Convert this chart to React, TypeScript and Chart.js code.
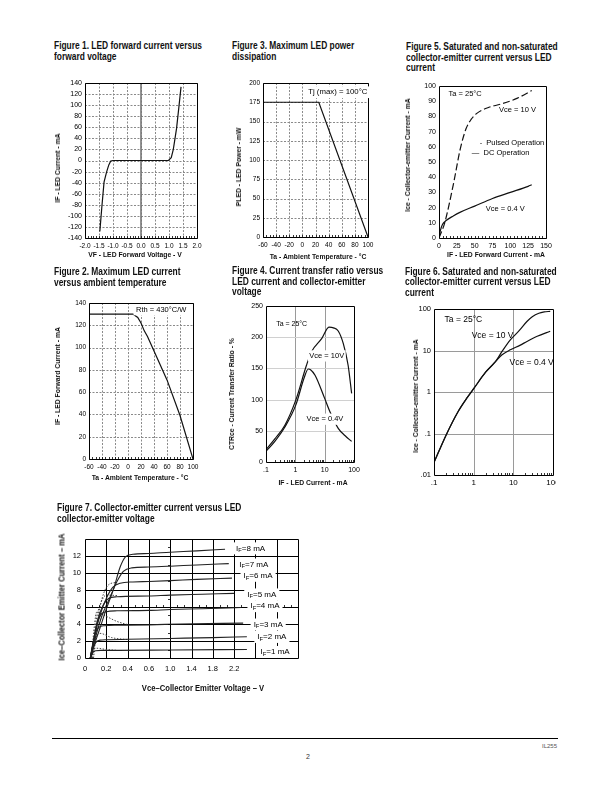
import React, { useEffect, useRef } from 'react';
import { Chart, registerables } from 'chart.js';

const FONT = '"Liberation Sans", Arial, Helvetica, sans-serif';

// ---------- Figure 1: LED forward current vs forward voltage ----------
const F1_VF = [-1.47, -1.4, -1.32, -1.23, -1.15, -1.08, -1.0, 0.98, 1.08, 1.15, 1.2, 1.27, 1.35, 1.43];
const F1_IF = [-128, -85, -39, -21, -8, -1, 0, 0, 5, 19, 35, 58, 95, 133];
const F1_XTICKS = [-2, -1.5, -1, -0.5, 0, 0.5, 1, 1.5, 2];
const F1_YTICKS = [-140, -120, -100, -80, -60, -40, -20, 0, 20, 40, 60, 80, 100, 120, 140];

// ---------- Figure 3: Maximum LED power dissipation ----------
const F3_TA = [-60, 25, 100];
const F3_P = [175, 175, 0];
const F3_XTICKS = [-60, -40, -20, 0, 20, 40, 60, 80, 100];
const F3_YTICKS = [0, 25, 50, 75, 100, 125, 150, 175, 200];

// ---------- Figure 5: Ice vs IF (linear) ----------
const F5_IF_10V = [0, 8, 20, 30, 38, 45, 53, 70, 86, 110, 130];
const F5_ICE_10V = [0, 10, 35, 59, 72, 78, 82, 86, 88, 92, 97];
const F5_IF_04V = [0, 2, 5, 10, 20, 30, 50, 75, 100, 125, 130];
const F5_ICE_04V = [0, 5, 9, 11.5, 14.5, 17, 21, 26, 30, 34, 35];
const F5_XTICKS = [0, 25, 50, 75, 100, 125, 150];
const F5_YTICKS = [0, 10, 20, 30, 40, 50, 60, 70, 80, 90, 100];

// ---------- Figure 2: Maximum LED current vs ambient temperature ----------
const F2_TA = [-60, 8, 15, 20, 25, 30, 40, 60, 80, 100];
const F2_IF = [130, 130, 127, 122, 115, 110, 97, 71, 39, 0];
const F2_XTICKS = [-60, -40, -20, 0, 20, 40, 60, 80, 100];
const F2_YTICKS = [0, 20, 40, 60, 80, 100, 120, 140];

// ---------- Figure 4: CTR vs LED current ----------
const F4_IF_10V = [0.1, 0.2, 0.44, 1.05, 2.4, 3.6, 8, 14, 20, 29, 43, 63, 83];
const F4_CTR_10V = [20, 37, 59, 100, 155, 177, 198, 216, 215, 210, 190, 155, 110];
const F4_IF_04V = [0.1, 0.2, 0.44, 1.05, 2, 2.76, 3.3, 4.7, 10, 15, 29, 50, 83];
const F4_CTR_04V = [17, 33, 56, 92, 135, 149, 148, 139, 102, 81, 54, 42, 33];
const F4_XTICKS = [0.1, 1, 10, 100];
const F4_XLABELS = ['.1', '1', '10', '100'];
const F4_YTICKS = [0, 50, 100, 150, 200, 250];

// ---------- Figure 6: Ice vs IF (log-log) ----------
const F6_IF_10V = [0.1, 0.2, 0.4, 0.7, 1, 2, 3.5, 5.2, 8.4, 14, 22, 30, 44, 60, 85];
const F6_ICE_10V = [0.02, 0.09, 0.33, 0.75, 1.2, 3, 5.3, 9.5, 18, 30, 50, 65, 79, 85, 88];
const F6_IF_04V = [0.1, 0.2, 0.4, 0.7, 1, 2, 3.5, 5.2, 8.4, 15, 22, 40, 85];
const F6_ICE_04V = [0.02, 0.09, 0.33, 0.75, 1.2, 3, 5.3, 7.9, 10.4, 13.5, 16.5, 22, 29];
const F6_XTICKS = [0.1, 1, 10, 100];
const F6_XLABELS = ['.1', '1', '10', '100'];
const F6_YTICKS = [0.01, 0.1, 1, 10, 100];
const F6_YLABELS = ['.01', '.1', '1', '10', '100'];

// ---------- Figure 7: Ice vs Vce for several IF ----------
const F7_V8 = [0.05, 0.1, 0.14, 0.19, 0.27, 0.33, 0.38, 0.45, 0.6, 1.0, 1.5, 2.03];
const F7_I8 = [0, 2, 3.5, 5.4, 8.2, 10.7, 11.9, 12.2, 12.3, 12.45, 12.6, 12.8];
const F7_V7 = [0.05, 0.1, 0.16, 0.23, 0.3, 0.36, 0.44, 0.6, 1.0, 1.5, 2.1];
const F7_I7 = [0, 2.5, 5, 7, 9, 10.2, 10.6, 10.7, 10.8, 10.95, 11.1];
const F7_V6 = [0.05, 0.09, 0.14, 0.2, 0.26, 0.33, 0.45, 0.6, 1.0, 1.5, 2.16];
const F7_I6 = [0, 2.5, 5, 7, 8.3, 8.8, 8.95, 9.0, 9.1, 9.25, 9.4];
const F7_V5 = [0.05, 0.08, 0.12, 0.17, 0.22, 0.3, 0.6, 1.0, 1.6, 2.2];
const F7_I5 = [0, 2, 4.5, 6.2, 7.0, 7.2, 7.3, 7.4, 7.5, 7.6];
const F7_V4 = [0.05, 0.08, 0.11, 0.15, 0.2, 0.3, 0.6, 1.0, 1.6, 2.34];
const F7_I4 = [0, 2, 4, 5.1, 5.45, 5.55, 5.6, 5.7, 5.8, 5.95];
const F7_V3 = [0.05, 0.07, 0.1, 0.13, 0.18, 0.3, 0.6, 1.2, 2.37];
const F7_I3 = [0, 1.5, 3, 3.6, 3.8, 3.85, 3.9, 4.0, 4.1];
const F7_V2 = [0.05, 0.07, 0.1, 0.14, 0.2, 0.4, 1.0, 1.8, 2.44];
const F7_I2 = [0, 1, 1.8, 2.1, 2.15, 2.2, 2.3, 2.4, 2.5];
const F7_V1 = [0.05, 0.07, 0.1, 0.15, 0.3, 1.0, 2.44];
const F7_I1 = [0, 0.6, 0.85, 0.9, 0.9, 0.95, 1.0];
// dotted (pulsed) traces
const F7_DA_V = [0.06, 0.09, 0.11, 0.2, 0.3, 0.41];
const F7_DA_I = [0, 4, 5.4, 4.9, 4.3, 3.9];
const F7_DB_V = [0.06, 0.09, 0.14, 0.25, 0.41];
const F7_DB_I = [0, 2, 2.9, 2.4, 2.15];
const F7_DC_V = [0.06, 0.08, 0.11, 0.2, 0.3];
const F7_DC_I = [0, 0.9, 1.15, 1.0, 0.9];
const F7_DD_V = [0.07, 0.1, 0.15, 0.2, 0.3];
const F7_DD_I = [0, 4, 6.5, 7.4, 7.35];
const F7_DE_V = [0.08, 0.12, 0.16, 0.22, 0.3];
const F7_DE_I = [0, 4.5, 7, 8.6, 8.9];
const F7_XLABELS = ['0', '0.2', '0.4', '0.6', '1.0', '1.4', '1.8', '2.2'];
const F7_YTICKS = [0, 2, 4, 6, 8, 10, 12, 14];
const F7_LABELS = ['I_F=8 mA', 'I_F=7 mA', 'I_F=6 mA', 'I_F=5 mA', 'I_F=4 mA', 'I_F=3 mA', 'I_F=2 mA', 'I_F=1 mA'];
const F7_LABEL_V = [2.51, 2.57, 2.65, 2.72, 2.78, 2.84, 2.91, 2.97];
const F7_LABEL_I = [12.9, 11.0, 9.67, 7.48, 6.1, 3.94, 2.48, 0.71];

// axis with 0.2 V divisions up to 0.6 V and 0.4 V divisions beyond
const toDiv = (v: number) => (v <= 0.6 ? v / 0.2 : 3 + (v - 0.6) / 0.4);

const range = (a: number, b: number, s: number) => {
  const out: number[] = [];
  for (let v = a; v <= b + 1e-9; v += s) out.push(Math.round(v * 1000) / 1000);
  return out;
};
const logMinor = (decades: number[]) => {
  const out: number[] = [];
  decades.forEach((d) => { for (let k = 2; k <= 9; k++) out.push(d * k); });
  return out;
};

// ---------- plugins ----------
const framePlugin = {
  id: 'frame',
  beforeDatasetsDraw(chart: any, _a: any, o: any) {
    if (!o || !o.on) return;
    const { ctx, chartArea: a } = chart;
    const x = chart.scales.x, y = chart.scales.y;
    const px = (v: number) => Math.round(x.getPixelForValue(v)) + 0.5;
    const py = (v: number) => Math.round(y.getPixelForValue(v)) + 0.5;
    ctx.save();
    ctx.lineWidth = o.gridWidth ?? 1;
    ctx.setLineDash(o.gridDash ?? []);
    ctx.strokeStyle = o.gridColor ?? '#999';
    ctx.beginPath();
    (o.gx || []).forEach((v: number) => { const p = px(v); ctx.moveTo(p, a.top); ctx.lineTo(p, a.bottom); });
    ctx.stroke();
    ctx.strokeStyle = o.gyColor ?? o.gridColor ?? '#999';
    ctx.beginPath();
    (o.gy || []).forEach((v: number) => { const p = py(v); ctx.moveTo(a.left, p); ctx.lineTo(a.right, p); });
    ctx.stroke();
    (o.special || []).forEach((s: any) => {
      ctx.setLineDash(s.dash || []);
      ctx.strokeStyle = s.color;
      ctx.lineWidth = s.width;
      ctx.beginPath();
      if (s.x !== undefined) { const p = x.getPixelForValue(s.x); ctx.moveTo(p, a.top); ctx.lineTo(p, a.bottom); }
      else { const p = y.getPixelForValue(s.y); ctx.moveTo(a.left, p); ctx.lineTo(a.right, p); }
      ctx.stroke();
    });
    ctx.restore();
  },
  afterDatasetsDraw(chart: any, _a: any, o: any) {
    if (!o || !o.on) return;
    const { ctx, chartArea: a } = chart;
    const x = chart.scales.x, y = chart.scales.y;
    const px = (v: number) => Math.round(x.getPixelForValue(v)) + 0.5;
    const py = (v: number) => Math.round(y.getPixelForValue(v)) + 0.5;
    ctx.save();
    ctx.setLineDash([]);
    ctx.strokeStyle = o.boxColor ?? '#000';
    ctx.lineWidth = o.boxWidth ?? 1;
    const l = Math.round(a.left) + 0.5, t = Math.round(a.top) + 0.5;
    const r = Math.round(a.right) + 0.5, b = Math.round(a.bottom) + 0.5;
    ctx.beginPath();
    ctx.moveTo(l, t); ctx.lineTo(l, b); ctx.lineTo(r, b);
    if (o.fullBox !== false) { ctx.lineTo(r, t); ctx.lineTo(l, t); }
    ctx.stroke();
    ctx.lineWidth = 0.8;
    const len = o.minorLen ?? 2.5;
    ctx.beginPath();
    (o.minorX || []).forEach((v: number) => { const p = px(v); ctx.moveTo(p, b); ctx.lineTo(p, b - len); });
    (o.minorY || []).forEach((v: number) => { const p = py(v); ctx.moveTo(l, p); ctx.lineTo(l + len, p); });
    (o.hticks || []).forEach((h: any) => {
      const yy = py(h.y);
      h.xs.forEach((v: number) => { const p = px(v); ctx.moveTo(p, yy); ctx.lineTo(p, yy - len); });
    });
    (o.vticks || []).forEach((h: any) => {
      const xx = px(h.x);
      h.ys.forEach((v: number) => { const p = py(v); ctx.moveTo(xx, p); ctx.lineTo(xx - len, p); });
    });
    ctx.stroke();
    ctx.restore();
  },
};

const segs = (t: string) => {
  const parts = t.split('_');
  const out = [{ s: parts[0], sub: false }];
  for (let i = 1; i < parts.length; i++) {
    out.push({ s: parts[i][0], sub: true });
    if (parts[i].length > 1) out.push({ s: parts[i].slice(1), sub: false });
  }
  return out.filter((p) => p.s.length);
};

const notesPlugin = {
  id: 'notes',
  afterDatasetsDraw(chart: any, _a: any, o: any) {
    if (!o || !o.items) return;
    const { ctx } = chart;
    const x = chart.scales.x, y = chart.scales.y;
    o.items.forEach((it: any) => {
      const size = it.size || 7.5;
      const cx = x.getPixelForValue(it.x), cy = y.getPixelForValue(it.y);
      ctx.save();
      const pieces = segs(it.t).map((p) => {
        const fs = p.sub ? size * 0.72 : size;
        ctx.font = `${fs}px ${FONT}`;
        return { ...p, fs, w: ctx.measureText(p.s).width };
      });
      const total = pieces.reduce((s, p) => s + p.w, 0);
      let sx = it.align === 'left' ? cx : it.align === 'right' ? cx - total : cx - total / 2;
      if (it.bg) {
        ctx.fillStyle = '#fff';
        const pad = it.pad ?? 2.5;
        ctx.fillRect(sx - pad, cy - size * 0.75, total + pad * 2, size * 1.5);
      }
      ctx.fillStyle = '#000';
      ctx.textBaseline = 'middle';
      ctx.textAlign = 'left';
      pieces.forEach((p) => {
        ctx.font = `${p.fs}px ${FONT}`;
        ctx.fillText(p.s, sx, cy + (p.sub ? size * 0.28 : 0));
        sx += p.w;
      });
      ctx.restore();
    });
  },
};

Chart.register(...registerables, framePlugin, notesPlugin);

// ---------- helpers ----------
const ds = (xs: number[], ys: number[], extra: any = {}) => ({
  data: xs.map((x, i) => ({ x, y: ys[i] })),
  showLine: true,
  pointRadius: 0,
  borderColor: '#111',
  borderWidth: 1.2,
  fill: false,
  ...extra,
});

const axis = (type: string, min: number, max: number, ticks: number[], fmt: (v: number) => string, size: number, pad: number) => ({
  type,
  min,
  max,
  grid: { display: false, drawTicks: false },
  border: { display: false },
  afterBuildTicks: (s: any) => { s.ticks = ticks.map((v) => ({ value: v })); },
  ticks: {
    autoSkip: false,
    maxRotation: 0,
    minRotation: 0,
    padding: pad,
    color: '#000',
    font: { family: FONT, size },
    callback: (v: any) => fmt(Number(v)),
  },
});

function Plot({ L, T, R, B, pl = 32, pt = 7, pr = 12, pb = 20, make }: any) {
  const ref = useRef<HTMLCanvasElement | null>(null);
  const w = R - L + pl + pr;
  const h = B - T + pt + pb;
  useEffect(() => {
    const cfg: any = make();
    const o = cfg.options;
    o.responsive = false;
    o.maintainAspectRatio = false;
    o.animation = false;
    o.events = [];
    o.layout = { padding: { left: 0, top: pt, right: pr, bottom: 0 } };
    o.plugins = { legend: { display: false }, tooltip: { enabled: false }, ...(o.plugins || {}) };
    o.scales.x.afterFit = (s: any) => { s.height = pb; s.paddingLeft = 0; s.paddingRight = 0; };
    o.scales.y.afterFit = (s: any) => { s.width = pl; s.paddingTop = 0; s.paddingBottom = 0; };
    const chart = new Chart(ref.current as HTMLCanvasElement, cfg);
    return () => chart.destroy();
  }, []);
  return (
    <canvas
      ref={ref}
      width={w}
      height={h}
      style={{ position: 'absolute', left: L - pl, top: T - pt, width: w, height: h }}
    />
  );
}

const Title = ({ x, y, lines, lh = 10.8 }: any) => (
  <div
    style={{
      position: 'absolute', left: x, top: y, font: `bold 10px ${FONT}`, lineHeight: `${lh}px`,
      transform: 'scaleX(0.84)', transformOrigin: '0 0', whiteSpace: 'nowrap', color: '#111',
    }}
  >
    {lines.map((l: string, i: number) => <div key={i}>{l}</div>)}
  </div>
);

const AxisT = ({ cx, cy, text, rot = false, size = 8 }: any) => (
  <div
    style={{
      position: 'absolute', left: cx, top: cy, font: `bold ${size}px ${FONT}`, lineHeight: 1,
      whiteSpace: 'nowrap', color: '#111',
      transform: `translate(-50%, -50%) ${rot ? 'rotate(-90deg) ' : ''}scaleX(0.85)`,
    }}
  >
    {text}
  </div>
);

const intFmt = (v: number) => String(v);

export default function App() {
  return (
    <div style={{ position: 'absolute', left: 0, top: 0, width: 612, height: 792, background: '#fff', overflow: 'hidden', fontFamily: FONT }}>
      {/* Figure 1 */}
      <Title x={54} y={41.3} lines={['Figure 1. LED forward current versus', 'forward voltage']} />
      <Plot L={85} T={83} R={197} B={238} make={() => ({
        type: 'scatter',
        data: { datasets: [ds(F1_VF, F1_IF)] },
        options: {
          scales: {
            x: axis('linear', -2, 2, F1_XTICKS, (v) => v.toFixed(1), 6.5, 4),
            y: axis('linear', -140, 140, F1_YTICKS, intFmt, 7, 3),
          },
          plugins: {
            frame: {
              on: true, gx: F1_XTICKS, gy: F1_YTICKS, gridColor: '#8a8a8a', gridDash: [2, 1.5],
              special: [{ x: 0, color: '#777', width: 1.6 }], minorX: range(-2, 2, 0.1),
            },
          },
        },
      })} />
      <AxisT cx={58.3} cy={168} rot text="IF - LED  Current - mA" />
      <AxisT cx={135} cy={255} text="VF - LED Forward Voltage - V" />

      {/* Figure 3 */}
      <Title x={231.7} y={41.3} lines={['Figure 3. Maximum LED power', 'dissipation']} />
      <Plot L={263} T={83} R={368} B={237} make={() => ({
        type: 'scatter',
        data: { datasets: [ds(F3_TA, F3_P)] },
        options: {
          scales: {
            x: axis('linear', -60, 100, F3_XTICKS, intFmt, 6.5, 4),
            y: axis('linear', 0, 200, F3_YTICKS, intFmt, 6.5, 3),
          },
          plugins: {
            frame: { on: true, gx: F3_XTICKS, gy: F3_YTICKS, gridColor: '#8a8a8a', gridDash: [2, 1.5], minorX: range(-60, 100, 5) },
            notes: { items: [{ x: 54, y: 188, t: 'Tj (max) = 100°C', bg: true, size: 7.8 }] },
          },
        },
      })} />
      <AxisT cx={239} cy={167} rot text="PLED - LED Power - mW" />
      <AxisT cx={318} cy={257} text="Ta - Ambient Temperature - °C" />

      {/* Figure 5 */}
      <Title x={406} y={42.3} lh={10.5} lines={['Figure 5. Saturated and non-saturated', 'collector-emitter current versus LED', 'current']} />
      <Plot L={439} T={86} R={546} B={238} make={() => ({
        type: 'scatter',
        data: {
          datasets: [
            ds(F5_IF_10V, F5_ICE_10V, { borderDash: [7, 3], cubicInterpolationMode: 'monotone' }),
            ds(F5_IF_04V, F5_ICE_04V, { cubicInterpolationMode: 'monotone' }),
          ],
        },
        options: {
          scales: {
            x: axis('linear', 0, 150, F5_XTICKS, intFmt, 7, 4),
            y: axis('linear', 0, 100, F5_YTICKS, intFmt, 7, 3),
          },
          plugins: {
            frame: { on: true, minorX: range(0, 150, 5) },
            notes: {
              items: [
                { x: 36.6, y: 95, t: 'Ta = 25°C' },
                { x: 110, y: 84, t: 'Vce = 10 V' },
                { x: 57, y: 62.8, t: '-  Pulsed Operation', align: 'left' },
                { x: 46, y: 56.2, t: '—  DC Operation', align: 'left' },
                { x: 92.8, y: 18.9, t: 'Vce = 0.4 V' },
              ],
            },
          },
        },
      })} />
      <AxisT cx={408.3} cy={155} rot text="Ice  -  Collector-emitter  Current - mA" />
      <AxisT cx={496} cy={255} text="IF -  LED Forward Current - mA" />

      {/* Figure 2 */}
      <Title x={54} y={266.9} lines={['Figure 2. Maximum LED current', 'versus ambient temperature']} />
      <Plot L={89} T={303} R={193} B={459} make={() => ({
        type: 'scatter',
        data: { datasets: [ds(F2_TA, F2_IF)] },
        options: {
          scales: {
            x: axis('linear', -60, 100, F2_XTICKS, intFmt, 6.5, 4),
            y: axis('linear', 0, 140, F2_YTICKS, intFmt, 6.5, 3),
          },
          plugins: {
            frame: { on: true, gx: F2_XTICKS, gy: F2_YTICKS, gridColor: '#8a8a8a', gridDash: [2, 1.5], minorX: range(-60, 100, 5) },
            notes: { items: [{ x: 51, y: 134, t: 'Rth = 430°C/W', bg: true, size: 7.5 }] },
          },
        },
      })} />
      <AxisT cx={58.3} cy={376} rot text="IF  -  LED Forward Current - mA" />
      <AxisT cx={140} cy={478.3} text="Ta - Ambient Temperature -  °C" />

      {/* Figure 4 */}
      <Title x={231.7} y={266.3} lh={10.5} lines={['Figure 4. Current transfer ratio versus', 'LED current and collector-emitter', 'voltage']} />
      <Plot L={266} T={306} R={354} B={462} make={() => ({
        type: 'scatter',
        data: {
          datasets: [
            ds(F4_IF_10V, F4_CTR_10V, { cubicInterpolationMode: 'monotone' }),
            ds(F4_IF_04V, F4_CTR_04V, { cubicInterpolationMode: 'monotone' }),
          ],
        },
        options: {
          scales: {
            x: axis('logarithmic', 0.1, 100, F4_XTICKS, (v) => F4_XLABELS[F4_XTICKS.indexOf(v)] ?? '', 7, 4),
            y: axis('linear', 0, 250, F4_YTICKS, intFmt, 7, 3),
          },
          plugins: {
            frame: {
              on: true, gx: [1, 10], gy: [50, 100, 150, 200], gridColor: '#9a9a9a', gyColor: '#d0d0d0',
              minorX: logMinor([0.1, 1, 10]),
            },
            notes: {
              items: [
                { x: 0.75, y: 221, t: 'Ta = 25°C', size: 7 },
                { x: 11.8, y: 170, t: 'Vce = 10V', bg: true, size: 7.5, pad: 1.5 },
                { x: 10.2, y: 68.6, t: 'Vce = 0.4V', bg: true, size: 7.5, pad: 1.5 },
              ],
            },
          },
        },
      })} />
      <AxisT cx={232.3} cy={394} rot text="CTRce - Current Transfer Ratio - %" />
      <AxisT cx={313} cy={482.7} text="IF - LED Current - mA" />

      {/* Figure 6 */}
      <Title x={405} y={266.9} lh={10.5} lines={['Figure 6. Saturated and non-saturated', 'collector-emitter current versus LED', 'current']} />
      <Plot L={434} T={309} R={553} B={475} pr={3} pl={30} make={() => ({
        type: 'scatter',
        data: {
          datasets: [
            ds(F6_IF_10V, F6_ICE_10V, { cubicInterpolationMode: 'monotone' }),
            ds(F6_IF_04V, F6_ICE_04V, { cubicInterpolationMode: 'monotone' }),
          ],
        },
        options: {
          scales: {
            x: axis('logarithmic', 0.1, 100, F6_XTICKS, (v) => F6_XLABELS[F6_XTICKS.indexOf(v)] ?? '', 8, 3),
            y: axis('logarithmic', 0.01, 100, F6_YTICKS, (v) => F6_YLABELS[F6_YTICKS.indexOf(v)] ?? '', 7.5, 3),
          },
          plugins: {
            frame: { on: true, gx: [1, 10], gy: [0.1, 1, 10], gridColor: '#9a9a9a', minorX: logMinor([0.1, 1, 10]) },
            notes: {
              items: [
                { x: 0.55, y: 55, t: 'Ta = 25°C', size: 8.5 },
                { x: 3.0, y: 23, t: 'Vce = 10 V', size: 8.5 },
                { x: 29, y: 5.0, t: 'Vce = 0.4 V', size: 8.5 },
              ],
            },
          },
        },
      })} />
      <AxisT cx={416} cy={396} rot text="Ice  -  Collector-emitter  Current - mA" />

      {/* Figure 7 */}
      <Title x={57.3} y={502.9} lines={['Figure 7. Collector-emitter current versus LED', 'collector-emitter voltage']} />
      <Plot L={85} T={539} R={298} B={658} pl={26} pb={18} pr={14} make={() => {
        const dv = (vs: number[]) => vs.map(toDiv);
        const solid = { cubicInterpolationMode: 'monotone', borderWidth: 1.1, borderColor: '#222' };
        const dot = { cubicInterpolationMode: 'monotone', borderWidth: 1, borderColor: '#444', borderDash: [1.5, 1.5] };
        return {
          type: 'scatter',
          data: {
            datasets: [
              ds(dv(F7_V8), F7_I8, solid),
              ds(dv(F7_V7), F7_I7, solid),
              ds(dv(F7_V6), F7_I6, solid),
              ds(dv(F7_V5), F7_I5, solid),
              ds(dv(F7_V4), F7_I4, solid),
              ds(dv(F7_V3), F7_I3, solid),
              ds(dv(F7_V2), F7_I2, solid),
              ds(dv(F7_V1), F7_I1, solid),
              ds(dv(F7_DA_V), F7_DA_I, dot),
              ds(dv(F7_DB_V), F7_DB_I, dot),
              ds(dv(F7_DC_V), F7_DC_I, dot),
              ds(dv(F7_DD_V), F7_DD_I, dot),
              ds(dv(F7_DE_V), F7_DE_I, dot),
            ],
          },
          options: {
            scales: {
              x: axis('linear', 0, 10, F7_XLABELS.map((_, i) => i), (v) => F7_XLABELS[v] ?? '', 7.5, 6),
              y: axis('linear', 0, 14, F7_YTICKS, (v) => (v <= 12 ? String(v) : ''), 7.5, 4),
            },
            plugins: {
              frame: {
                on: true, gx: range(1, 9, 1), gy: [2, 4, 6, 8, 10, 12], gridColor: '#000', gridWidth: 1,
                hticks: [{ y: 6, xs: range(0, 10, 1 / 3) }],
                vticks: [{ x: 4, ys: range(1, 13, 1) }],
              },
              notes: {
                items: F7_LABELS.map((t, i) => ({ x: toDiv(F7_LABEL_V[i]), y: F7_LABEL_I[i], t, bg: true, size: 8, pad: 3 })),
              },
            },
          },
        };
      }} />
      <AxisT cx={61.7} cy={596.7} rot size={9} text="Ice–Collector Emitter Current – mA" />
      <AxisT cx={203} cy={687.7} size={9} text="Vce–Collector Emitter Voltage – V" />

      {/* Footer */}
      <div style={{ position: 'absolute', left: 52, top: 738, width: 506, height: 1, background: '#000' }} />
      <div style={{ position: 'absolute', left: 520, top: 743, width: 37, textAlign: 'right', font: `6px ${FONT}`, color: '#555' }}>IL255</div>
      <div style={{ position: 'absolute', left: 296, top: 753, width: 24, textAlign: 'center', font: `7px ${FONT}`, color: '#333' }}>2</div>
    </div>
  );
}
